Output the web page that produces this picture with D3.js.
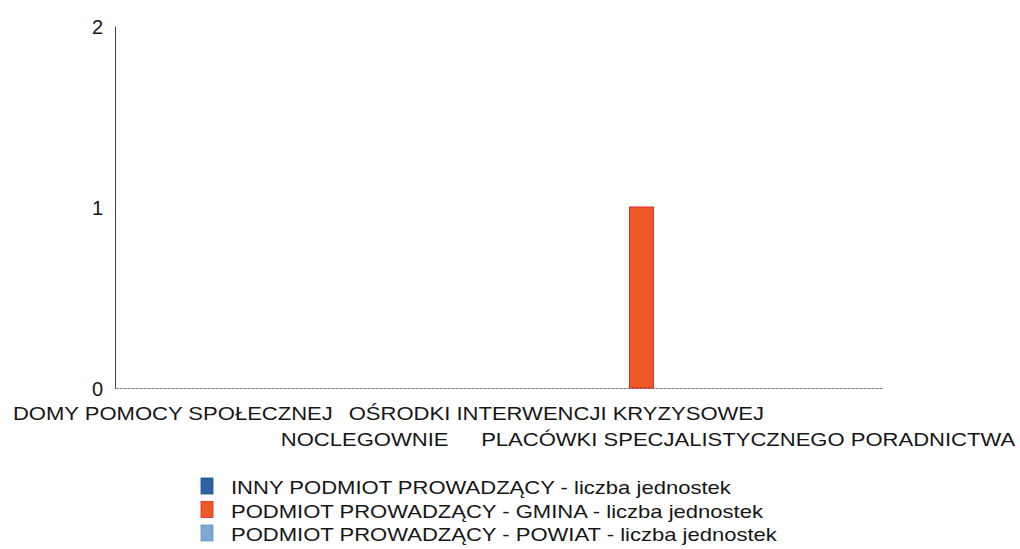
<!DOCTYPE html>
<html><head><meta charset="utf-8">
<script src="https://cdn.jsdelivr.net/npm/d3@7/dist/d3.min.js"></script>
<style>body{margin:0;background:#fff} text{font-family:"Liberation Sans",Arial,sans-serif;fill:#161616}</style>
</head><body><svg id="c" width="1020" height="549"></svg>
<script>
const categories = ["DOMY POMOCY SPOŁECZNEJ", "NOCLEGOWNIE", "OŚRODKI INTERWENCJI KRYZYSOWEJ", "PLACÓWKI SPECJALISTYCZNEGO PORADNICTWA"];
const seriesNames = ["INNY PODMIOT PROWADZĄCY - liczba jednostek", "PODMIOT PROWADZĄCY - GMINA - liczba jednostek", "PODMIOT PROWADZĄCY - POWIAT - liczba jednostek"];
const innyValues = [0, 0, 0, 0];
const gminaValues = [0, 0, 1, 0];
const powiatValues = [0, 0, 0, 0];
const yTicks = [0, 1, 2];
const seriesColors = ["#2d62a6", "#ee5a26", "#7ea7d2"];
const seriesStroke = ["#1f4f90", "#e0252a", "#6a95c4"];

const allValues = [innyValues, gminaValues, powiatValues];
const svg = d3.select("#c");
const y = d3.scaleLinear().domain([0, 2]).range([388, 26]);
const x0 = d3.scaleBand().domain(categories).range([115, 882]);
const bw = x0.bandwidth();
const x1 = d3.scaleBand().domain([0, 1, 2]).range([bw * 0.558, bw * 0.933]);
const SX = 1.16;

// y axis
const yAxis = d3.axisLeft(y).tickValues(yTicks).tickSize(0).tickPadding(12).tickFormat(d3.format("d"));
const gy = svg.append("g").attr("transform", "translate(115,0)").call(yAxis);
gy.select(".domain").attr("stroke", "#444").attr("stroke-width", 1);
gy.selectAll("text").attr("font-size", 20).attr("fill", "#161616").attr("font-family", '"Liberation Sans",Arial,sans-serif').attr("dy", "0.36em");

// x axis line
const xAxis = d3.axisBottom(x0).tickSize(0).tickFormat("");
const gx = svg.append("g").attr("transform", "translate(0,388)").call(xAxis);
gx.select(".domain").attr("stroke", "#777").attr("stroke-width", 1).attr("stroke-dasharray", "3,1");

// bars
allValues.forEach((vals, si) => {
  svg.append("g").selectAll("rect").data(vals.map((v, i) => ({v, c: categories[i]}))).enter()
    .append("rect")
    .attr("x", d => x0(d.c) + x1(si))
    .attr("width", x1.bandwidth())
    .attr("y", d => y(d.v))
    .attr("height", d => y(0) - y(d.v))
    .attr("fill", seriesColors[si])
    .attr("stroke", d => d.v > 0 ? seriesStroke[si] : "none")
    .attr("stroke-width", 1);
});

// category labels, alternating rows
categories.forEach((c, i) => {
  const cx = x0(c) + bw / 2 - 38;
  const by = i % 2 === 0 ? 420 : 446;
  svg.append("g").attr("transform", `translate(${cx},${by}) scale(${SX},1)`)
    .append("text").attr("text-anchor", "middle").attr("font-size", 19).text(c);
});

// legend
seriesNames.forEach((n, i) => {
  const by = 494 + i * 23.5;
  svg.append("rect").attr("x", 201).attr("y", by - 16).attr("width", 12).attr("height", 16)
    .attr("fill", seriesColors[i]).attr("stroke", seriesStroke[i]).attr("stroke-width", 0.8);
  svg.append("g").attr("transform", `translate(231,${by}) scale(${SX},1)`)
    .append("text").attr("font-size", 19).text(n);
});
</script></body></html>
